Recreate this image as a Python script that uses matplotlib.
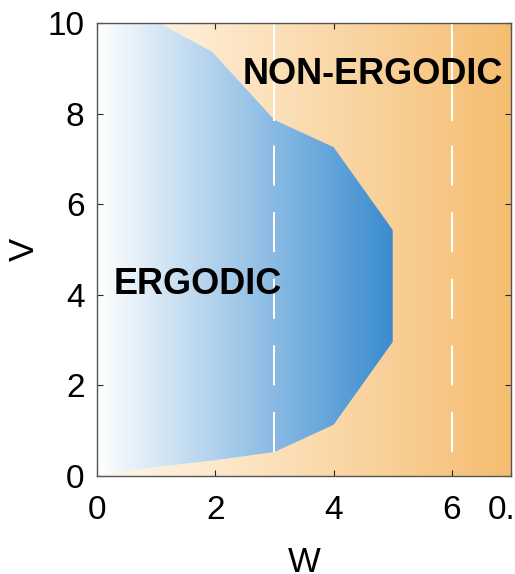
import numpy as np
import matplotlib
matplotlib.use("Agg")
import matplotlib.pyplot as plt
from matplotlib.colors import LinearSegmentedColormap
from matplotlib.patches import Polygon

plt.rcParams['font.family'] = ['Liberation Sans', 'DejaVu Sans']

# phase boundary between the ergodic and non-ergodic regions (W, V)
w_edge = [0, 1, 2, 3, 4, 5, 5, 4, 3, 1.95, 1.05, 0]
v_edge = [0, 0.2, 0.35, 0.53, 1.13, 2.96, 5.43, 7.26, 7.86, 9.36, 10, 10]

# vertical guide lines
w_guides = [3, 6]
v_guide_lo = 0.53
v_guide_hi = 7.86

x_ticks = [0, 2, 4, 6, 7]
x_ticklabels = ['0', '2', '4', '6', '0.5']
y_ticks = [0, 2, 4, 6, 8, 10]

fig = plt.figure(figsize=(5.15, 5.74), dpi=100)
ax = fig.add_axes([97/515, 1 - 476/574, 414/515, 453/574])

xmax, ymax = 7, 10
grad = np.linspace(0, 1, 256).reshape(1, -1)

orange = LinearSegmentedColormap.from_list(
    'orng', ['#fff7ec', '#fde6c6', '#f9d29c', '#f5bd70'])
ax.imshow(grad, cmap=orange, extent=[0, xmax, 0, ymax], aspect='auto',
          origin='lower', zorder=0)

blue = LinearSegmentedColormap.from_list('blu', ['#ffffff', '#3a8cd0'])
im = ax.imshow(grad, cmap=blue, extent=[0, 5, 0, ymax], aspect='auto',
               origin='lower', zorder=1)
poly = Polygon(np.column_stack([w_edge, v_edge]), closed=True,
               facecolor='none', edgecolor='none')
ax.add_patch(poly)
im.set_clip_path(poly)

for w in w_guides:
    ax.plot([w, w], [v_guide_lo, v_guide_hi], color='white', lw=1.44,
            dashes=(20, 13.3), zorder=2)
    ax.plot([w, w], [v_guide_hi, ymax], color='white', lw=1.44, zorder=2)

ax.text(1.7, 4.22, 'ERGODIC', fontsize=26, fontweight='bold',
        ha='center', va='center', zorder=3)
ax.text(4.66, 8.87, 'NON-ERGODIC', fontsize=26, fontweight='bold',
        ha='center', va='center', zorder=3)

ax.set_xlim(0, xmax)
ax.set_ylim(0, ymax)
ax.set_xticks(x_ticks)
ax.set_xticklabels(x_ticklabels)
ax.set_yticks(y_ticks)
ax.tick_params(direction='in', length=4, width=0.8, top=True, right=True,
               labelsize=24, color='#262626')
ax.tick_params(axis='x', pad=14)
ax.tick_params(axis='y', pad=9)
for s in ax.spines.values():
    s.set_color('#555555')
    s.set_linewidth(1.0)
    s.set_zorder(4)

ax.set_xlabel('W', fontsize=25, labelpad=14)
ax.set_ylabel('V', fontsize=25, labelpad=5)

fig.savefig('out.png', dpi=100)
